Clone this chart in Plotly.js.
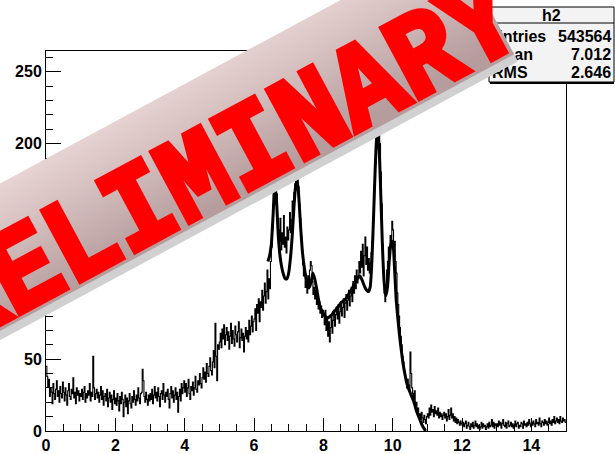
<!DOCTYPE html>
<html><head><meta charset="utf-8">
<script src="https://cdn.plot.ly/plotly-3.0.1.min.js"></script>
<style>html,body{margin:0;padding:0;background:#fff}#chart{width:615px;height:454px}</style>
</head><body><div id="chart"></div>
<script>
// ---- data ----
const binWidth = 0.025;
const counts = [
45,38,31,36,24,30,27,19,33,26,22,29,35,24,28,20,31,26,23,34,27,21,30,25,18,28,33,24,22,29,26,37,23,27,19,30,25,28,21,26,
24,29,22,27,31,20,26,23,28,25,33,21,27,24,52,30,22,26,29,23,27,20,25,31,22,28,18,24,26,21,29,17,23,27,20,25,15,22,28,19,
23,18,26,21,14,24,19,27,22,10,20,25,17,23,12,21,26,19,16,24,20,28,22,18,25,21,30,23,19,26,27,43,35,24,20,27,22,18,25,21,
26,22,29,19,25,31,23,27,21,30,24,17,26,28,22,33,25,20,27,24,29,22,16,26,31,23,28,20,25,30,22,27,13,24,29,21,33,26,30,35,
27,33,24,30,36,26,22,31,28,34,25,30,38,29,27,35,32,40,33,30,37,44,36,41,34,47,40,38,45,51,42,39,48,56,44,75,52,35,60,57,
62,68,58,71,64,74,60,67,72,63,69,57,66,75,61,70,64,59,73,67,62,69,76,58,65,71,63,68,55,66,72,64,70,62,77,67,73,80,69,76,
78,85,70,88,82,92,76,90,86,98,84,94,103,89,97,112,92,106,99,118,128,140,158,172,180,176,165,148,140,132,148,126,138,130,150,128,135,124,142,133,
140,152,138,147,160,150,166,172,178,182,176,170,158,148,136,124,116,108,112,100,104,96,108,99,112,118,115,104,95,100,92,98,88,94,85,90,82,87,79,84,
80,74,84,70,78,66,76,62,72,80,68,77,84,73,81,86,78,88,75,83,90,80,86,92,79,89,95,84,91,98,87,94,100,90,104,96,108,99,112,103,
106,118,110,125,114,130,108,122,135,116,128,112,120,110,117,124,132,145,158,172,186,198,208,216,212,200,180,158,130,110,96,90,102,112,118,128,122,136,130,146,
140,128,132,118,110,96,88,80,72,66,60,52,48,42,38,34,30,36,32,28,55,40,30,26,22,28,18,20,14,16,10,12,8,13,9,6,11,8,5,10,
12,9,16,11,18,13,15,10,17,12,14,11,16,9,13,10,12,8,11,13,9,12,7,10,15,8,11,16,9,12,7,10,6,9,5,8,6,4,7,5,
4,6,3,5,7,2,4,6,3,1,5,3,6,2,4,7,3,5,2,4,1,3,6,2,5,3,4,1,3,5,2,6,3,4,8,3,6,2,5,4,
5,3,7,4,6,2,5,8,4,3,6,2,5,7,3,4,6,3,5,2,4,7,3,5,6,2,4,3,6,5,2,7,4,5,3,6,4,8,5,3,
6,4,7,5,3,8,5,6,4,9,5,3,7,6,4,8,5,7,4,6,9,5,7,4,8,6,10,5,7,9,6,8,5,10,7,6,9,7,8,6
];
const fitX = [6.40,6.45,6.50,6.55,6.60,6.65,6.70,6.75,6.80,6.85,6.90,6.95,7.00,7.05,7.10,7.15,7.20,7.25,7.30,7.35,
7.40,7.45,7.50,7.55,7.60,7.65,7.70,7.75,7.80,7.85,7.90,7.95,8.00,8.05,8.10,8.15,8.20,8.25,8.30,8.35,
8.40,8.45,8.50,8.55,8.60,8.65,8.70,8.75,8.80,8.85,8.90,8.95,9.00,9.05,9.10,9.15,9.20,9.25,9.30,9.35,
9.40,9.45,9.50,9.55,9.60,9.65,9.70,9.75,9.80,9.85,9.90,9.95,10.00,10.05,10.10,10.15,10.20,10.25,10.30,10.35,
10.40,10.45,10.50,10.55,10.60,10.65,10.70,10.75,10.80,10.85,10.90,10.95];
const fitY = [118,122,130,150,172,160,136,122,114,109,106,106,110,120,135,155,170,174,160,140,
124,114,107,103,100,104,110,106,100,93,87,84,82,80,79,79,80,81,83,84,
86,87,89,90,91,92,94,96,98,100,103,105,107,108,106,103,100,98,97,100,
118,150,185,208,200,170,132,105,94,100,118,130,132,115,92,78,66,56,47,40,
34,30,27,24,21,17,13,10,7,4,2,0];
const xTickVals = [0,2,4,6,8,10,12,14];
const yTickVals = [0,50,100,150,200,250];
const statsTitle = 'h2';
const statsLabels = ['Entries','Mean','RMS'];
const statsValues = ['543564','7.012','2.646'];
const bannerText = 'PRELIMINARY';

// ---- geometry ----
const W=615,H=454,L=46,R=49,T=51,B=23;
const pw=W-L-R, ph=H-T-B;
const px=p=>(p-L)/pw, py=p=>(H-B-p)/ph;

const hx = counts.map((_,i)=>i*binWidth).concat([counts.length*binWidth]);
const hy = counts.concat([counts[counts.length-1]]);

const FONT = '"Liberation Sans Narrow","Arial Narrow","Liberation Sans",Arial,sans-serif';

const data = [
  {type:'scatter',mode:'lines',x:hx,y:hy,line:{shape:'hv',color:'#000',width:1.1},hoverinfo:'skip'},
  {type:'scatter',mode:'lines',x:fitX,y:fitY,line:{shape:'spline',smoothing:0.6,color:'#000',width:3},hoverinfo:'skip'}
];

const statsFont = {family:FONT,size:16,color:'#000',weight:'bold'};
const rowsY=[36,54,72.5];
const annotations = [];
annotations.push({xref:'paper',yref:'paper',x:px(551.5),y:py(15.5),text:statsTitle,showarrow:false,xanchor:'center',yanchor:'middle',font:statsFont});
statsLabels.forEach((s,i)=>annotations.push({xref:'paper',yref:'paper',x:px(490),y:py(rowsY[i]),text:s,showarrow:false,xanchor:'left',yanchor:'middle',font:statsFont}));
statsValues.forEach((s,i)=>annotations.push({xref:'paper',yref:'paper',x:px(613),y:py(rowsY[i]),text:s,showarrow:false,xanchor:'right',yanchor:'middle',font:statsFont}));
const ANG=-28.3;
const bandC=[175,163];
annotations.push({xref:'paper',yref:'paper',x:px(bandC[0]),y:py(bandC[1]),xshift:4,yshift:-7,text:bannerText,showarrow:false,xanchor:'center',yanchor:'middle',width:700,height:130,borderpad:0,borderwidth:0,bgcolor:'#d0d0d0',textangle:ANG,font:{size:10,color:'rgba(0,0,0,0)'}});
const bandIdx = annotations.length;
annotations.push({xref:'paper',yref:'paper',x:px(bandC[0]),y:py(bandC[1]),text:bannerText,showarrow:false,xanchor:'center',yanchor:'middle',width:700,height:130,borderpad:0,borderwidth:0,bgcolor:'#cbb4b4',textangle:ANG,font:{size:10,color:'rgba(0,0,0,0)'}});
const textIdx = annotations.length;
annotations.push({xref:'paper',yref:'paper',x:px(198),y:py(181),text:bannerText,showarrow:false,xanchor:'center',yanchor:'middle',textangle:ANG,font:{family:'"Liberation Mono","Courier New",monospace',size:120,color:'#ff0000',weight:'bold'}});

const shapes = [
  {type:'rect',xref:'paper',yref:'paper',x0:px(489),x1:px(614),y0:py(82),y1:py(7),fillcolor:'#f3f3f3',line:{color:'#000',width:1},layer:'above'},
  {type:'line',xref:'paper',yref:'paper',x0:px(489),x1:px(614),y0:py(23),y1:py(23),line:{color:'#000',width:1},layer:'above'},
  {type:'line',xref:'paper',yref:'paper',x0:px(490),x1:px(614),y0:py(83),y1:py(83),line:{color:'#000',width:2},layer:'above'}
];

const tickFont = {family:FONT,size:16,color:'#000',weight:'bold'};
const layout = {
  width:W,height:H,margin:{l:L,r:R,t:T,b:B,pad:0},
  paper_bgcolor:'#fff',plot_bgcolor:'#fff',showlegend:false,
  xaxis:{range:[0,15],tickmode:'array',tickvals:xTickVals,ticks:'inside',ticklen:13,tickwidth:1,tickcolor:'#000',
    showline:true,mirror:true,linecolor:'#000',linewidth:1,showgrid:false,zeroline:false,tickfont:tickFont,
    minor:{ticks:'inside',ticklen:7,dtick:0.5,tick0:0,tickcolor:'#000',tickwidth:1,showgrid:false}},
  yaxis:{range:[0,264.5],tickmode:'array',tickvals:yTickVals,ticks:'inside',ticklen:15,tickwidth:1,tickcolor:'#000',
    showline:true,mirror:true,linecolor:'#000',linewidth:1,showgrid:false,zeroline:false,tickfont:tickFont,
    minor:{ticks:'inside',ticklen:7,dtick:10,tick0:0,tickcolor:'#000',tickwidth:1,showgrid:false}},
  annotations:annotations,shapes:shapes
};

Plotly.newPlot('chart',data,layout,{staticPlot:true}).then(gd=>{
  const ns='http://www.w3.org/2000/svg';
  const svg=gd.querySelector('svg.main-svg');
  let defs=svg.querySelector('defs');
  if(!defs){defs=document.createElementNS(ns,'defs');svg.insertBefore(defs,svg.firstChild);}
  const lg=document.createElementNS(ns,'linearGradient');
  lg.setAttribute('id','bandGrad');
  lg.setAttribute('x1','0');lg.setAttribute('y1','0');lg.setAttribute('x2','0.15');lg.setAttribute('y2','1');
  [['0','#ead6d6'],['1','#b69c9c']].forEach(([o,c])=>{const s=document.createElementNS(ns,'stop');s.setAttribute('offset',o);s.setAttribute('stop-color',c);lg.appendChild(s);});
  defs.appendChild(lg);
  const band=gd.querySelector('.annotation[data-index="'+bandIdx+'"] rect.bg');
  if(band) band.style.fill='url(#bandGrad)';
  const txt=gd.querySelector('.annotation[data-index="'+textIdx+'"] text');
  if(txt){
    txt.style.stroke='#ff0000';txt.style.strokeWidth='6px';txt.style.strokeLinejoin='miter';
    const bb=txt.getBBox();const cx=bb.x+bb.width/2, cy=bb.y+bb.height/2;
    const prev=txt.getAttribute('transform')||'';
    txt.setAttribute('transform',prev+' translate('+cx+','+cy+') scale(0.9,1) translate('+(-cx)+','+(-cy)+')');
  }
});
</script></body></html>
